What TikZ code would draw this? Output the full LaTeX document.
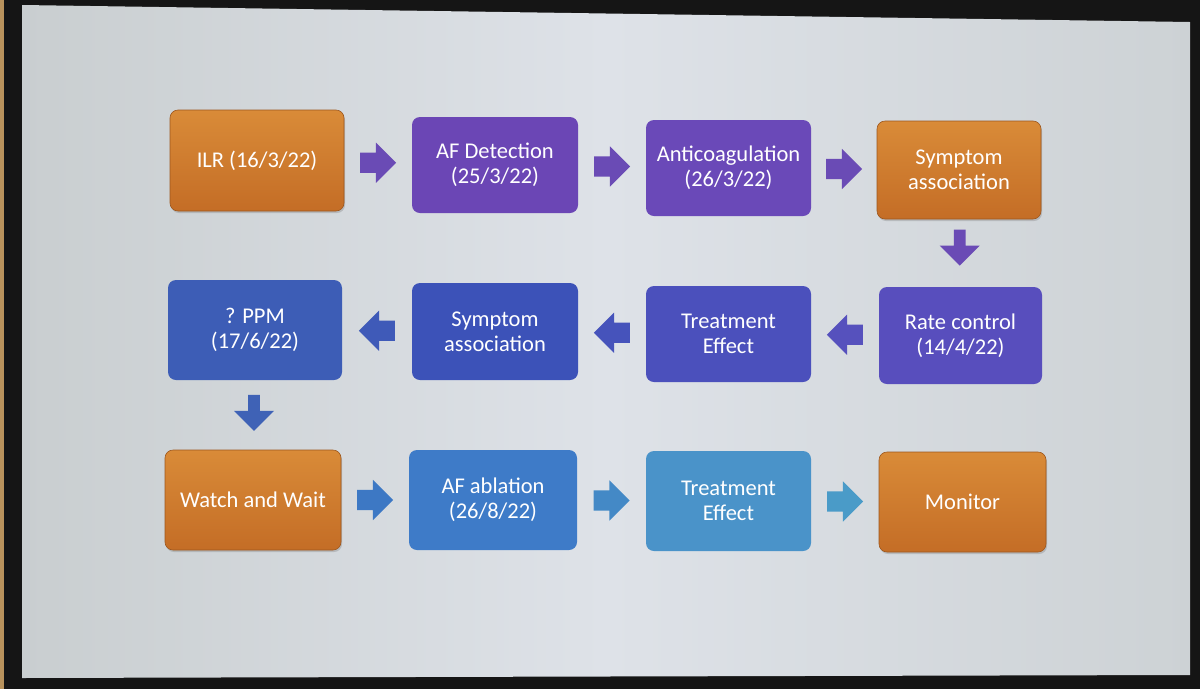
\documentclass[tikz,border=0pt]{standalone}
\usepackage{fontspec}
\setmainfont{Carlito}
\usetikzlibrary{shapes.arrows,shadows,calc}
\definecolor{bezel}{HTML}{151515}
\definecolor{wood}{HTML}{B8925C}
\definecolor{scrL}{HTML}{C9CED0}
\definecolor{scrM}{HTML}{DEE2E8}
\definecolor{scrR}{HTML}{CDD2D5}
\definecolor{orT}{HTML}{D98B38}
\definecolor{orB}{HTML}{C46D26}
\definecolor{pu1}{HTML}{6B46B5}
\definecolor{pu2}{HTML}{6A49B8}
\definecolor{bp1}{HTML}{584EBD}
\definecolor{bp2}{HTML}{4B50BC}
\definecolor{bl1}{HTML}{3C52B8}
\definecolor{bl2}{HTML}{3D5DB6}
\definecolor{bl3}{HTML}{3E7BC8}
\definecolor{bl4}{HTML}{4A93C9}
\definecolor{ar1}{HTML}{6A4BB5}
\definecolor{ar2}{HTML}{5651BD}
\definecolor{ar3}{HTML}{4653BB}
\definecolor{ar4}{HTML}{3F5AB8}
\definecolor{ar5}{HTML}{3F62B6}
\definecolor{ar6}{HTML}{3D78C4}
\definecolor{ar7}{HTML}{4489C6}
\definecolor{ar8}{HTML}{4A9BC8}
\tikzset{
  box/.style={rounded corners=8pt, align=center, text=white, inner sep=0pt,
    font=\fontsize{22.5}{25}\selectfont},
  obox/.style={box, top color=orT, bottom color=orB, draw=orB!80!black, line width=0.6pt,
    drop shadow={shadow xshift=1pt, shadow yshift=-2pt, opacity=0.35}},
  cbox/.style={box, fill=#1},
  blockarrow/.style={single arrow, single arrow head extend=10pt,
    inner xsep=4pt, inner ysep=10pt,
    minimum width=40pt, minimum height=36pt, fill=#1, draw=none},
  toright/.style={xshift=-5pt},
  toleft/.style={shape border rotate=180, xshift=5pt},
  todown/.style={shape border rotate=270, yshift=5pt},
}
\begin{document}
\begin{tikzpicture}[x=1pt,y=-1pt]
\useasboundingbox (0,0) rectangle (1200,689);
\fill[bezel] (0,0) rectangle (1200,689);
\fill[wood] (0,0) rectangle (4,689);
\shade[left color=scrL, right color=scrR, middle color=scrM]
  (22,5) -- (1190,22) -- (1190,675) -- (22,678) -- cycle;

% row 1
\node[obox, minimum width=174pt, minimum height=101pt] (ilr) at (257,160.5) {ILR (16/3/22)};
\node[cbox=pu1, minimum width=166pt, minimum height=96pt] (afd) at (495,165) {AF Detection\\(25/3/22)};
\node[cbox=pu2, minimum width=165pt, minimum height=96pt] (anti) at (728.5,168) {Anticoagulation\\(26/3/22)};
\node[obox, minimum width=164pt, minimum height=98pt] (sym1) at (959,170) {Symptom\\association};
% row 2
\node[cbox=bp1, minimum width=163pt, minimum height=97pt] (rate) at (960.5,335.5) {Rate control\\(14/4/22)};
\node[cbox=bp2, minimum width=165pt, minimum height=96pt] (tr1) at (728.5,334) {Treatment\\Effect};
\node[cbox=bl1, minimum width=166pt, minimum height=97pt] (sym2) at (495,331.5) {Symptom\\association};
\node[cbox=bl2, minimum width=174pt, minimum height=100pt] (ppm) at (255,330) {? PPM\\(17/6/22)};
% row 3
\node[obox, minimum width=176pt, minimum height=100pt] (ww) at (253,500) {Watch and Wait};
\node[cbox=bl3, minimum width=168pt, minimum height=100pt] (abl) at (493,500) {AF ablation\\(26/8/22)};
\node[cbox=bl4, minimum width=165pt, minimum height=100pt] (tr2) at (728.5,501) {Treatment\\Effect};
\node[obox, minimum width=167pt, minimum height=100pt] (mon) at (962.5,502) {Monitor};

% connectors (block arrows)
\node[blockarrow=ar1, toright] (a1) at ($(ilr.east)!0.5!(afd.west)$) {};
\node[blockarrow=ar1, toright] (a2) at ($(afd.east)!0.5!(anti.west)$) {};
\node[blockarrow=ar1, toright] (a3) at ($(anti.east)!0.5!(sym1.west)$) {};
\node[blockarrow=ar1, todown] (a4) at ($(sym1.south)!0.45!(rate.north)$) {};
\node[blockarrow=ar2, toleft] (a5) at ($(rate.west)!0.5!(tr1.east)$) {};
\node[blockarrow=ar3, toleft] (a6) at ($(tr1.west)!0.5!(sym2.east)$) {};
\node[blockarrow=ar4, toleft] (a7) at ($(sym2.west)!0.5!(ppm.east)$) {};
\node[blockarrow=ar5, todown] (a8) at ($(ppm.south)!0.5!(ww.north)$) {};
\node[blockarrow=ar6, toright] (a9) at ($(ww.east)!0.5!(abl.west)$) {};
\node[blockarrow=ar7, toright] (a10) at ($(abl.east)!0.5!(tr2.west)$) {};
\node[blockarrow=ar8, toright] (a11) at ($(tr2.east)!0.5!(mon.west)$) {};
\end{tikzpicture}
\end{document}
